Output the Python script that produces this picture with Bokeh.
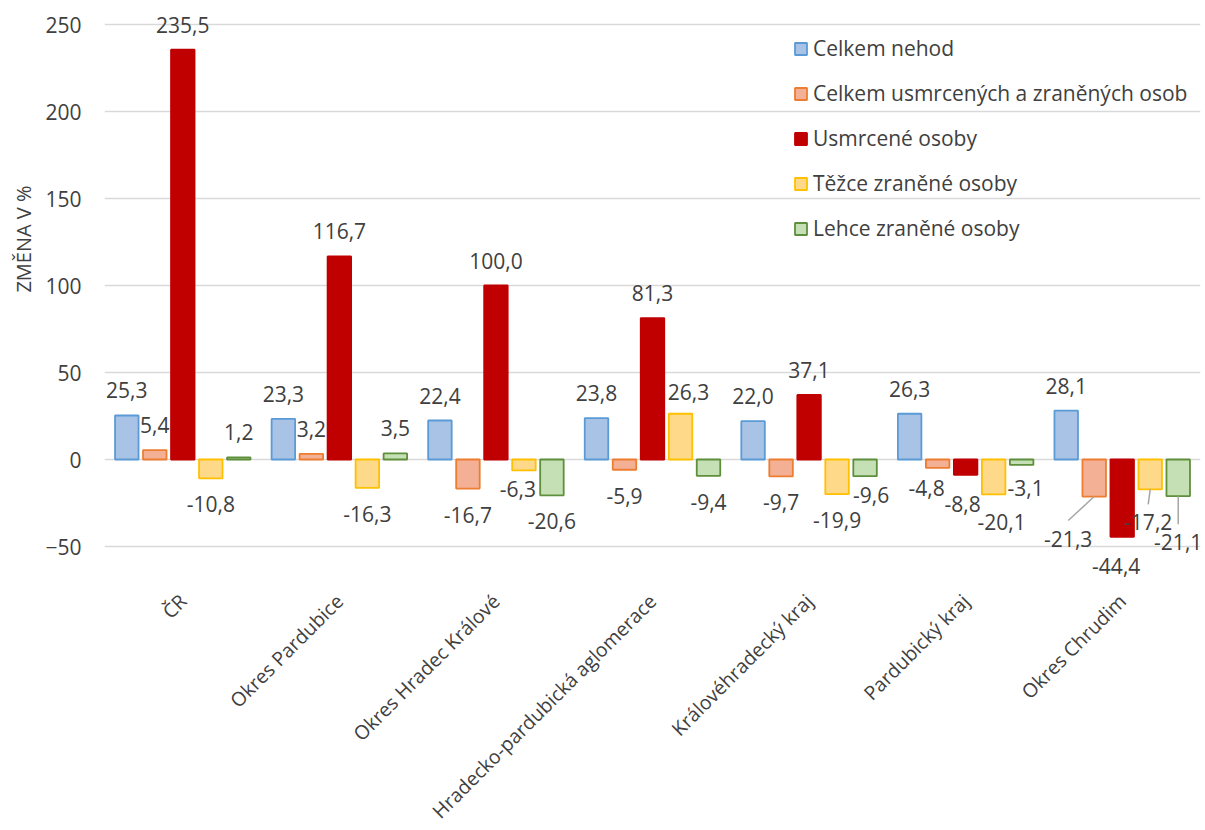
import math
from bokeh.plotting import figure
from bokeh.models import (Range1d, FixedTicker, ColumnDataSource, Legend,
                          LegendItem, Title)
from bokeh.core.properties import value
from bokeh.embed import file_html
from bokeh.resources import INLINE

# ---------------- data ----------------
categories = ["ČR", "Okres Pardubice", "Okres Hradec Králové",
              "Hradecko-pardubická aglomerace", "Královéhradecký kraj",
              "Pardubický kraj", "Okres Chrudim"]
series_names = ["Celkem nehod", "Celkem usmrcených a zraněných osob",
                "Usmrcené osoby", "Těžce zraněné osoby", "Lehce zraněné osoby"]
celkem_nehod = [25.3, 23.3, 22.4, 23.8, 22.0, 26.3, 28.1]
celkem_usmrcenych_zranenych = [5.4, 3.2, -16.7, -5.9, -9.7, -4.8, -21.3]
usmrcene = [235.5, 116.7, 100.0, 81.3, 37.1, -8.8, -44.4]
tezce_zranene = [-10.8, -16.3, -6.3, 26.3, -19.9, -20.1, -17.2]
lehce_zranene = [1.2, 3.5, -20.6, -9.4, -9.6, -3.1, -21.1]
y_ticks = [-50, 0, 50, 100, 150, 200, 250]
y_axis_title = "ZMĚNA V %"

series_values = [celkem_nehod, celkem_usmrcenych_zranenych, usmrcene,
                 tezce_zranene, lehce_zranene]

# ---------------- styling / layout ----------------
FONT = "Open Sans"
TEXT = "#404040"
FS = "21px"
FS_CAT = "19.5px"
fills = ["#A9C3E7", "#F4B094", "#C00000", "#FFD98A", "#C6E0B5"]
lines = ["#5B9BD5", "#ED7D31", "#C00000", "#FFC000", "#5E8F3C"]

B_LEFT, B_RIGHT = 104, 5
FRAME_W, FRAME_H = 1096, 830
PX_PER_Y = 1.74            # pixels per one percent on the value axis
TOP_GRID_PX = 24           # pixel row of the highest tick
y_end = y_ticks[-1] + TOP_GRID_PX / PX_PER_Y
y_start = y_end - FRAME_H / PX_PER_Y
n = len(categories)
PX_PER_X = FRAME_W / n
step = 28 / PX_PER_X
bar_w = 23.5 / PX_PER_X
# category labels: right end anchored this many px below the lowest tick
CAT_LABEL_DROP_PX = 51
y_cat = y_ticks[0] - CAT_LABEL_DROP_PX / PX_PER_Y
# axis title: pixel row where its (upper) end sits
TITLE_TOP_PX = 185

# per-label manual nudges: (category, series) -> (dx px, distance px)
label_nudge = {
    (2, 3): (-6, 19), (3, 3): (8, 22), (4, 4): (6, 19),
    (5, 1): (-11, 20), (5, 2): (-3, 29), (5, 3): (8, 28), (5, 4): (4, 23),
    (6, 1): (-26, 42), (6, 2): (-6, 29), (6, 3): (-2, 33), (6, 4): (0, 46),
}
leaders = [(6, 1), (6, 3), (6, 4)]

p = figure(frame_width=FRAME_W, frame_height=FRAME_H,
           x_range=Range1d(-0.5, n - 0.5), y_range=Range1d(y_start, y_end),
           output_backend="svg", toolbar_location=None, x_axis_location=None,
           min_border_left=B_LEFT, min_border_right=B_RIGHT,
           min_border_top=0, min_border_bottom=0)
p.outline_line_color = None
p.background_fill_color = "white"
p.border_fill_color = "white"
p.xgrid.grid_line_color = None
p.ygrid.grid_line_color = "#D9D9D9"
p.ygrid.grid_line_width = 1.3

p.yaxis.ticker = FixedTicker(ticks=y_ticks)
p.yaxis.axis_line_color = None
p.yaxis.major_tick_line_color = None
p.yaxis.minor_tick_line_color = None
p.yaxis.major_tick_in = 0
p.yaxis.major_tick_out = 0
p.yaxis.major_label_standoff = 23
p.yaxis.major_label_text_font = FONT
p.yaxis.major_label_text_font_size = FS
p.yaxis.major_label_text_color = TEXT

items = []
for s, vals in enumerate(series_values):
    xs = [i + (s - 2) * step for i in range(n)]
    src = ColumnDataSource(dict(x=xs, top=vals))
    r = p.vbar(x="x", top="top", bottom=0, width=bar_w, source=src,
               fill_color=fills[s], line_color=lines[s], line_width=1.8)
    items.append(LegendItem(label=series_names[s], renderers=[r]))

    txt, xo, yo = [], [], []
    for i, v in enumerate(vals):
        dx, dist = label_nudge.get((i, s), (0, 25 if v >= 0 else 26))
        txt.append(f"{v:.1f}".replace(".", ","))
        xo.append(dx)
        yo.append(-dist if v >= 0 else dist)   # screen y grows downward
    lsrc = ColumnDataSource(dict(x=xs, y=vals, t=txt, xo=xo, yo=yo))
    p.text(x="x", y="y", text="t", x_offset="xo", y_offset="yo", source=lsrc,
           text_font=value(FONT), text_font_size=FS, text_color=TEXT,
           text_align="center", text_baseline="middle")

# leader lines
lx0, ly0, lx1, ly1 = [], [], [], []
for (i, s) in leaders:
    v = series_values[s][i]
    dx, dist = label_nudge[(i, s)]
    bx = i + (s - 2) * step
    lx0.append(bx)
    ly0.append(v)
    lx1.append(bx + dx / PX_PER_X)
    ly1.append(v - (dist - 18) / PX_PER_Y)
p.segment(x0=lx0, y0=ly0, x1=lx1, y1=ly1, line_color="#A6A6A6", line_width=1.5)

# category axis labels (rotated 45°)
csrc = ColumnDataSource(dict(x=list(range(n)), y=[y_cat] * n, t=categories))
p.text(x="x", y="y", text="t", source=csrc, angle=math.pi / 4,
       text_font=value(FONT), text_font_size=FS_CAT, text_color=TEXT,
       text_align="right", text_baseline="middle")

# value axis title (placed in the left panel)
p.add_layout(Title(text=y_axis_title, align="right", offset=TITLE_TOP_PX,
                   standoff=12, text_font=FONT, text_font_size="20px",
                   text_font_style="normal", text_color=TEXT), "left")

legend = Legend(items=items, location=(689, 588), border_line_color=None,
                background_fill_alpha=0, label_text_font=FONT,
                label_text_font_size=FS, label_text_color=TEXT,
                glyph_width=15, glyph_height=15, label_standoff=5,
                label_height=20, spacing=17, padding=0, margin=0)
p.add_layout(legend)

open("out.html", "w").write(file_html(p, INLINE))
